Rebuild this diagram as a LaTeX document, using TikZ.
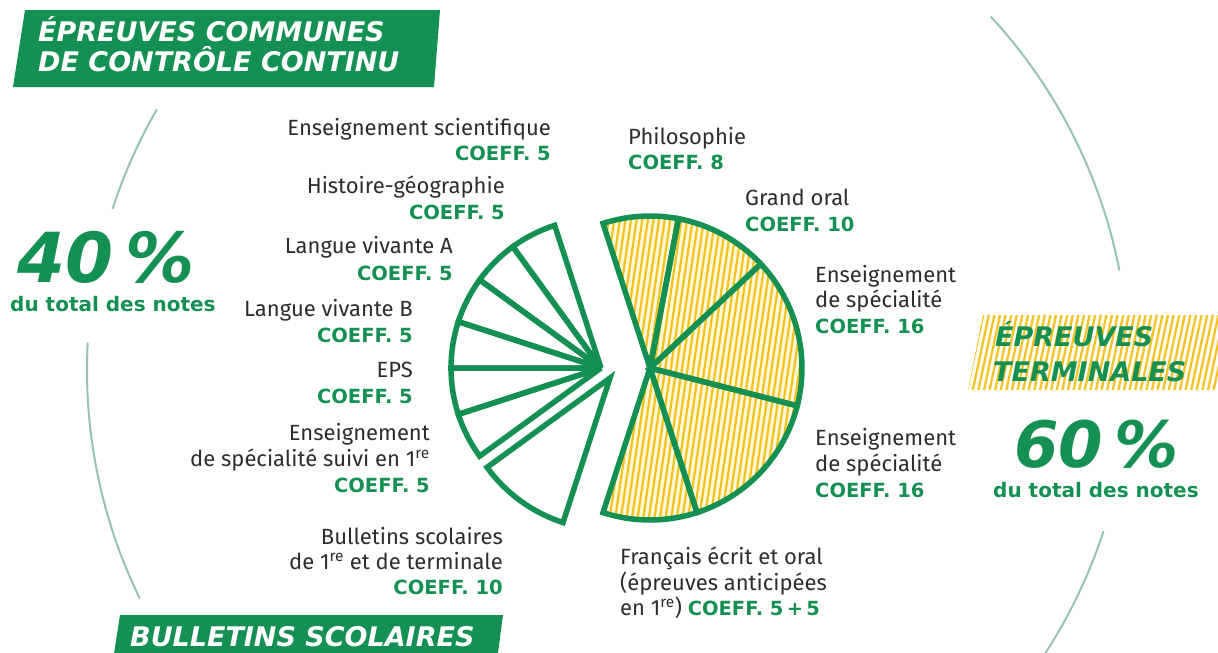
\documentclass[tikz,border=0pt]{standalone}
\usepackage{fontspec}
\setmainfont{Fira Sans}
\newfontfamily\bfam{DejaVu Sans}
\definecolor{vert}{RGB}{20,145,82}
\definecolor{txt}{RGB}{45,45,45}
\definecolor{ringc}{RGB}{150,196,175}
\definecolor{hatchc}{RGB}{246,194,30}
\definecolor{pale}{RGB}{255,249,215}
\tikzset{
 lbl/.style={inner sep=0pt, font=\fontsize{22}{26}\selectfont, text=txt},
 coeff/.style={inner sep=0pt, font=\bfam\bfseries\fontsize{19.5}{24}\selectfont, text=vert},
 piece/.style={draw=vert, line width=5.5pt, miter limit=4},
 ringarc/.style={draw=ringc, line width=2pt},
 banner/.style={inner sep=0pt, font=\bfam\bfseries\itshape\fontsize{27}{30}\selectfont},
 bignum/.style={inner sep=0pt, text depth=0pt, text=vert, font=\bfam\bfseries\itshape\fontsize{69}{72}\selectfont},
 subnum/.style={inner sep=0pt, text=vert, font=\bfam\bfseries\fontsize{20}{24}\selectfont},
 stripe/.style={draw=hatchc, line width=2.2pt},
}
\begin{document}
\begin{tikzpicture}[x=1pt,y=1pt]
\useasboundingbox (0,0) rectangle (1218,-653);
\fill[white] (0,0) rectangle (1218,-653);

% outer thin arcs
\draw[ringarc] (608,-370) ++(150:521) arc[start angle=150,end angle=162,radius=521];
\draw[ringarc] (608,-370) ++(177:521) arc[start angle=177,end angle=206,radius=521];
\draw[ringarc] (608,-370) ++(42.7:521) arc[start angle=42.7,end angle=11,radius=521];
\draw[ringarc] (608,-370) ++(-18:521) arc[start angle=-18,end angle=-36,radius=521];

% hatched fill of the right pie
\begin{scope}
\clip (650,-368) -- ++(108:152) arc[start angle=108,end angle=-108,radius=152] -- cycle;
\fill[pale] (540,-540) rectangle (820,-200);
\foreach \x in {500,505.6,...,830} \draw[stripe] (\x,-540) -- ++(50,340);
\end{scope}

% right pie sectors
\draw[piece] (650,-368) -- ++(108:152) arc[start angle=108,end angle=79.2,radius=152] -- cycle;
\draw[piece] (650,-368) -- ++(79.2:152) arc[start angle=79.2,end angle=43.2,radius=152] -- cycle;
\draw[piece] (650,-368) -- ++(43.2:152) arc[start angle=43.2,end angle=-14.4,radius=152] -- cycle;
\draw[piece] (650,-368) -- ++(-14.4:152) arc[start angle=-14.4,end angle=-72,radius=152] -- cycle;
\draw[piece] (650,-368) -- ++(-72:152) arc[start angle=-72,end angle=-108,radius=152] -- cycle;

% left pie sectors
\foreach \a in {108,126,144,162,180,198}{
  \draw[piece] (601,-368) -- ++(\a:150) arc[start angle=\a,end angle=\a+18,radius=150] -- cycle;
}
\draw[piece] (610,-378) -- ++(216:152) arc[start angle=216,end angle=252,radius=152] -- cycle;

% banners
\fill[vert] (25,-10) -- (440,-10) -- (434,-87) -- (13,-87) -- cycle;
\node[banner,text=white,anchor=base west] (b1) at (38,-41.7) {ÉPREUVES COMMUNES};
\node[banner,text=white,anchor=base west] (b2) at (38,-71.7) {DE CONTRÔLE CONTINU};

\fill[vert] (120,-615) -- (503,-615) -- (497,-660) -- (113,-660) -- cycle;
\node[banner,text=white,anchor=base west] (b3) at (130,-646.7) {BULLETINS SCOLAIRES};

\begin{scope}
\clip (983,-315) -- (1225,-315) -- (1225,-390) -- (968,-390) -- cycle;
\foreach \x in {900,905.6,...,1230} \draw[stripe] (\x,-390) -- ++(16,75);
\end{scope}
\node[banner,text=vert,anchor=base west] (b4) at (995,-346.7) {ÉPREUVES};
\node[banner,text=vert,anchor=base west] (b5) at (993,-381.7) {TERMINALES};

% percentages
\node[bignum,anchor=base west] (p40) at (17,-282) {40\hspace{0.18em}\%};
\node[subnum,anchor=base west] (t40) at (10,-311) {du total des notes};
\node[bignum,anchor=base west,font=\bfam\bfseries\itshape\fontsize{64}{67}\selectfont] (p60) at (1014,-467) {60\hspace{0.18em}\%};
\node[subnum,anchor=base west] (t60) at (993,-497) {du total des notes};

% left labels
\node[lbl,anchor=base east] (l1a) at (551,-135) {Enseignement scientifique};
\node[coeff,anchor=base east] (l1b) at (551,-160) {COEFF. 5};
\node[lbl,anchor=base east] (l2a) at (505,-193) {Histoire-géographie};
\node[coeff,anchor=base east] (l2b) at (505,-219) {COEFF. 5};
\node[lbl,anchor=base east] (l3a) at (453,-253) {Langue vivante A};
\node[coeff,anchor=base east] (l3b) at (453,-280) {COEFF. 5};
\node[lbl,anchor=base east] (l4a) at (413,-316) {Langue vivante B};
\node[coeff,anchor=base east] (l4b) at (413,-342) {COEFF. 5};
\node[lbl,anchor=base east] (l5a) at (413,-377) {EPS};
\node[coeff,anchor=base east] (l5b) at (413,-403) {COEFF. 5};
\node[lbl,anchor=base east] (l6a) at (430,-440) {Enseignement};
\node[lbl,anchor=base east] (l6b) at (430,-466) {de spécialité suivi en 1\textsuperscript{re}};
\node[coeff,anchor=base east] (l6c) at (430,-492) {COEFF. 5};
\node[lbl,anchor=base east] (l7a) at (503,-544) {Bulletins scolaires};
\node[lbl,anchor=base east] (l7b) at (503,-569) {de 1\textsuperscript{re} et de terminale};
\node[coeff,anchor=base east] (l7c) at (503,-594) {COEFF. 10};

% right labels
\node[lbl,anchor=base west] (r1a) at (628,-144) {Philosophie};
\node[coeff,anchor=base west] (r1b) at (628,-169) {COEFF. 8};
\node[lbl,anchor=base west] (r2a) at (745,-205) {Grand oral};
\node[coeff,anchor=base west] (r2b) at (745,-231) {COEFF. 10};
\node[lbl,anchor=base west] (r3a) at (815,-282) {Enseignement};
\node[lbl,anchor=base west] (r3b) at (815,-307) {de spécialité};
\node[coeff,anchor=base west] (r3c) at (815,-333) {COEFF. 16};
\node[lbl,anchor=base west] (r4a) at (815,-445) {Enseignement};
\node[lbl,anchor=base west] (r4b) at (815,-471) {de spécialité};
\node[coeff,anchor=base west] (r4c) at (815,-497) {COEFF. 16};
\node[lbl,anchor=base west] (r5a) at (620,-564) {Français écrit et oral};
\node[lbl,anchor=base west] (r5b) at (620,-590) {(épreuves anticipées};
\node[lbl,anchor=base west] (r5c) at (620,-615) {en 1\textsuperscript{re}) {\color{vert}\bfam\bfseries\fontsize{19.5}{24}\selectfont COEFF. 5\,+\,5}};
\end{tikzpicture}
\end{document}
